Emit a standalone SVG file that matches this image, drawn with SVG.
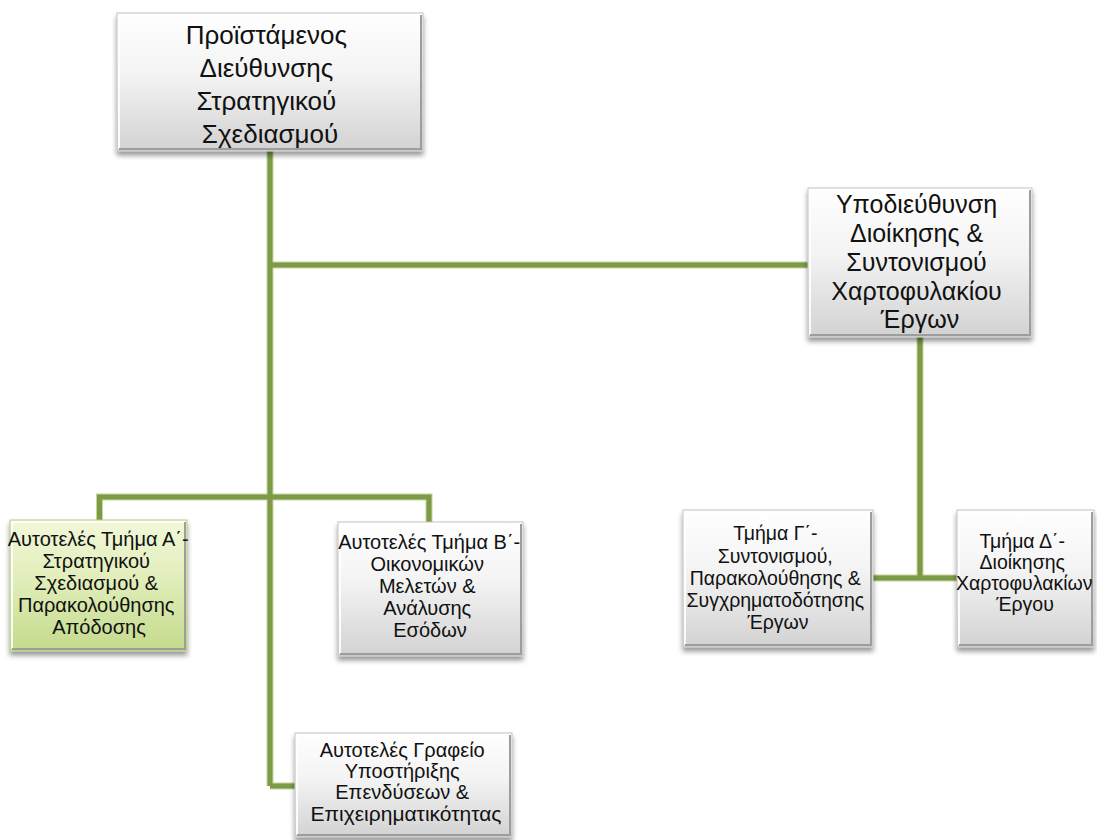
<svg xmlns="http://www.w3.org/2000/svg" width="1097" height="840" viewBox="0 0 1097 840">
  <defs>
    <linearGradient id="gGray" x1="0" y1="0" x2="0" y2="1">
      <stop offset="0" stop-color="#ffffff"/>
      <stop offset="0.45" stop-color="#f3f3f3"/>
      <stop offset="1" stop-color="#d2d2d2"/>
    </linearGradient>
    <linearGradient id="gGreen" x1="0" y1="0" x2="0" y2="1">
      <stop offset="0" stop-color="#f1f8da"/>
      <stop offset="0.45" stop-color="#e1eeba"/>
      <stop offset="1" stop-color="#c4da8c"/>
    </linearGradient>
    <filter id="shadow" x="-10%" y="-10%" width="120%" height="125%">
      <feDropShadow dx="0" dy="4" stdDeviation="2.5" flood-color="#000" flood-opacity="0.4"/>
    </filter>
  </defs>
  <style>
    .box { fill: url(#gGray); stroke: #c4c4c4; stroke-width: 1; filter: url(#shadow); }
    .box.green { fill: url(#gGreen); stroke: #b7cc84; }
    .bevel-dark { fill: none; stroke: #9d9d9d; stroke-width: 2; }
    .bevel-light { fill: none; stroke: #ffffff; stroke-width: 2; opacity: 0.9; }
    .halo { fill: none; stroke: #c3d79b; stroke-width: 7; }
    .conn { fill: none; stroke: #7e9a46; stroke-width: 5; stroke-linejoin: miter; }
    text { font-family: "Liberation Sans", Arial, sans-serif; fill: #111; text-anchor: middle; }
    .t26 { font-size: 26px; }
    .t25 { font-size: 25px; }
    .t20 { font-size: 20px; }
    .t195 { font-size: 19.5px; }
  </style>
  <rect width="1097" height="840" fill="#ffffff"/>

  <!-- connectors: soft halo underneath, olive line on top -->
  <g id="connectors">
    <g class="halo">
      <path d="M270 151 V786"/>
      <path d="M270 265 H808"/>
      <path d="M99.5 520 V497 H429 V522"/>
      <path d="M270 786 H295"/>
      <path d="M920 337 V578"/>
      <path d="M873 578 H957"/>
    </g>
    <g class="conn">
      <path d="M270 151 V786"/>
      <path d="M270 265 H808"/>
      <path d="M99.5 520 V497 H429 V522"/>
      <path d="M270 786 H295"/>
      <path d="M920 337 V578"/>
      <path d="M873 578 H957"/>
    </g>
  </g>

  <!-- head of directorate -->
  <g id="node-head">
    <rect class="box" x="117" y="13" width="306" height="138"/>
    <path class="bevel-light" d="M119 149 V15 H421"/>
    <path class="bevel-dark" d="M421 15 V149 H119"/>
    <text class="t26">
      <tspan x="270" y="44">Προϊστάμενος</tspan>
      <tspan x="270" y="77">Διεύθυνσης</tspan>
      <tspan x="270" y="110">Στρατηγικού</tspan>
      <tspan x="270" y="143">Σχεδιασμού</tspan>
    </text>
  </g>

  <!-- sub-directorate -->
  <g id="node-subdirectorate">
    <rect class="box" x="808" y="188" width="224" height="149"/>
    <path class="bevel-light" d="M810 335 V190 H1030"/>
    <path class="bevel-dark" d="M1030 190 V335 H810"/>
    <text class="t25">
      <tspan x="920" y="213">Υποδιεύθυνση</tspan>
      <tspan x="920" y="242">Διοίκησης &amp;</tspan>
      <tspan x="920" y="271">Συντονισμού</tspan>
      <tspan x="920" y="300">Χαρτοφυλακίου</tspan>
      <tspan x="920" y="328">Έργων</tspan>
    </text>
  </g>

  <!-- department A -->
  <g id="node-dept-a">
    <rect class="box green" x="10" y="520" width="177" height="131"/>
    <path class="bevel-light" d="M12 649 V522 H185"/>
    <path class="bevel-dark" d="M185 522 V649 H12" stroke="#a3b878"/>
    <text class="t20">
      <tspan x="101" y="546">Αυτοτελές Τμήμα Α΄-</tspan>
      <tspan x="99" y="568">Στρατηγικού</tspan>
      <tspan x="99" y="590">Σχεδιασμού &amp;</tspan>
      <tspan x="99" y="612">Παρακολούθησης</tspan>
      <tspan x="99" y="634">Απόδοσης</tspan>
    </text>
  </g>

  <!-- department B -->
  <g id="node-dept-b">
    <rect class="box" x="338" y="522" width="185" height="134"/>
    <path class="bevel-light" d="M340 654 V524 H521"/>
    <path class="bevel-dark" d="M521 524 V654 H340"/>
    <text class="t20">
      <tspan x="432" y="549">Αυτοτελές Τμήμα Β΄-</tspan>
      <tspan x="430" y="571">Οικονομικών</tspan>
      <tspan x="430" y="593">Μελετών &amp;</tspan>
      <tspan x="430" y="615">Ανάλυσης</tspan>
      <tspan x="430" y="637">Εσόδων</tspan>
    </text>
  </g>

  <!-- support office -->
  <g id="node-office">
    <rect class="box" x="295" y="733" width="217" height="104"/>
    <path class="bevel-light" d="M297 835 V735 H510"/>
    <path class="bevel-dark" d="M510 735 V835 H297"/>
    <text class="t20">
      <tspan x="405" y="757">Αυτοτελές Γραφείο</tspan>
      <tspan x="405" y="778">Υποστήριξης</tspan>
      <tspan x="405" y="799">Επενδύσεων &amp;</tspan>
      <tspan x="406" y="821" style="font-size:21px">Επιχειρηματικότητας</tspan>
    </text>
  </g>

  <!-- department C -->
  <g id="node-dept-c">
    <rect class="box" x="683" y="510" width="190" height="137"/>
    <path class="bevel-light" d="M685 645 V512 H871"/>
    <path class="bevel-dark" d="M871 512 V645 H685"/>
    <text class="t195">
      <tspan x="778" y="540">Τμήμα Γ΄-</tspan>
      <tspan x="778" y="563">Συντονισμού,</tspan>
      <tspan x="778" y="585">Παρακολούθησης &amp;</tspan>
      <tspan x="778" y="607">Συγχρηματοδότησης</tspan>
      <tspan x="778" y="629">Έργων</tspan>
    </text>
  </g>

  <!-- department D -->
  <g id="node-dept-d">
    <rect class="box" x="957" y="510" width="137" height="137"/>
    <path class="bevel-light" d="M959 645 V512 H1092"/>
    <path class="bevel-dark" d="M1092 512 V645 H959"/>
    <text class="t195">
      <tspan x="1025" y="548">Τμήμα Δ΄-</tspan>
      <tspan x="1025" y="569">Διοίκησης</tspan>
      <tspan x="1027" y="590">Χαρτοφυλακίων</tspan>
      <tspan x="1025" y="611">Έργου</tspan>
    </text>
  </g>
</svg>
